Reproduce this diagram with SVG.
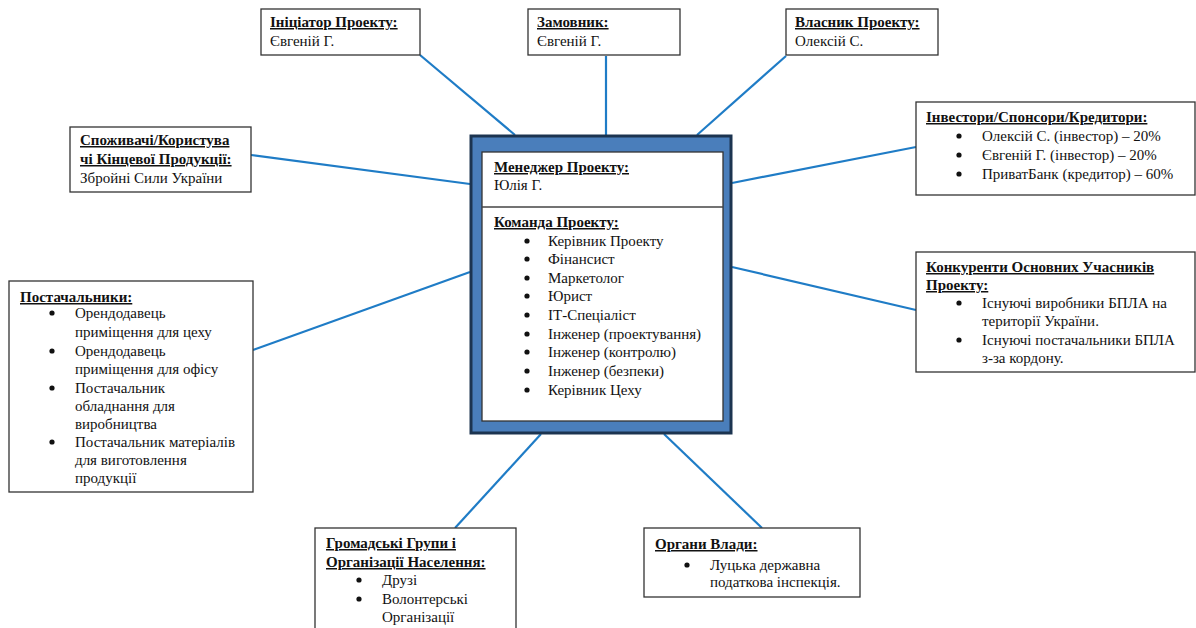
<svg xmlns="http://www.w3.org/2000/svg" width="1196" height="628" viewBox="0 0 1196 628">
<style>
.box{fill:#fff;stroke:#333;stroke-width:1.3}
text{font-family:"Liberation Serif","Times New Roman",serif;font-size:15px;fill:#111}
.t{font-weight:bold;text-decoration:underline}
.d{fill:#111}
.con line{stroke:#1f7cc6;stroke-width:2.2}
</style>
<rect width="1196" height="628" fill="#fff"/>
<g class="con" id="connectors">
<line x1="420" y1="55" x2="515" y2="135"/>
<line x1="606" y1="56" x2="606" y2="135"/>
<line x1="786" y1="56" x2="697" y2="135"/>
<line x1="251" y1="155" x2="470" y2="184"/>
<line x1="916" y1="147" x2="732" y2="183"/>
<line x1="253" y1="350" x2="470" y2="272"/>
<line x1="916" y1="310" x2="732" y2="267"/>
<line x1="455" y1="528" x2="541" y2="434"/>
<line x1="762" y1="528" x2="664" y2="434"/>
</g>
<g id="initiator">
<rect class="box" x="261" y="9" width="159" height="46"/>
<text class="t" x="270" y="27">Ініціатор Проекту:</text>
<text x="270" y="46">Євгеній Г.</text>
</g>
<g id="customer">
<rect class="box" x="528" y="9" width="152" height="46"/>
<text class="t" x="537" y="27">Замовник:</text>
<text x="537" y="46">Євгеній Г.</text>
</g>
<g id="owner">
<rect class="box" x="786" y="9" width="152" height="46"/>
<text class="t" x="795" y="27">Власник Проекту:</text>
<text x="795" y="46">Олексій С.</text>
</g>
<g id="consumers">
<rect class="box" x="70" y="127" width="181" height="65"/>
<text class="t" x="80" y="145">Споживачі/Користува</text>
<text class="t" x="80" y="164">чі Кінцевої Продукції:</text>
<text x="80" y="183">Збройні Сили України</text>
</g>
<g id="investors">
<rect class="box" x="916" y="102" width="279" height="93"/>
<text class="t" x="926" y="122">Інвестори/Спонсори/Кредитори:</text>
<circle class="d" cx="959" cy="136" r="2.6"/><text x="982" y="141">Олексій С. (інвестор) – 20%</text>
<circle class="d" cx="959" cy="155" r="2.6"/><text x="982" y="160">Євгеній Г. (інвестор) – 20%</text>
<circle class="d" cx="959" cy="174" r="2.6"/><text x="982" y="179">ПриватБанк (кредитор) – 60%</text>
</g>
<g id="suppliers">
<rect class="box" x="9" y="281" width="244" height="211"/>
<text class="t" x="20" y="302">Постачальники:</text>
<circle class="d" cx="52" cy="313" r="2.6"/><text x="75" y="318">Орендодавець</text>
<text x="75" y="337">приміщення для цеху</text>
<circle class="d" cx="52" cy="351" r="2.6"/><text x="75" y="356">Орендодавець</text>
<text x="75" y="374">приміщення для офісу</text>
<circle class="d" cx="52" cy="388" r="2.6"/><text x="75" y="393">Постачальник</text>
<text x="75" y="411">обладнання для</text>
<text x="75" y="429">виробництва</text>
<circle class="d" cx="52" cy="442" r="2.6"/><text x="75" y="447">Постачальник матеріалів</text>
<text x="75" y="465">для виготовлення</text>
<text x="75" y="483">продукції</text>
</g>
<g id="competitors">
<rect class="box" x="916" y="252" width="279" height="120"/>
<text class="t" x="926" y="272">Конкуренти Основних Учасників</text>
<text class="t" x="926" y="290">Проекту:</text>
<circle class="d" cx="959" cy="303" r="2.6"/><text x="982" y="308">Існуючі виробники БПЛА на</text>
<text x="982" y="326">території України.</text>
<circle class="d" cx="959" cy="340" r="2.6"/><text x="982" y="345">Існуючі постачальники БПЛА</text>
<text x="982" y="363">з-за кордону.</text>
</g>
<g id="public">
<rect class="box" x="315" y="528" width="201" height="110"/>
<text class="t" x="326" y="548">Громадські Групи і</text>
<text class="t" x="326" y="567">Організації Населення:</text>
<circle class="d" cx="359" cy="580" r="2.6"/><text x="382" y="585">Друзі</text>
<circle class="d" cx="359" cy="599" r="2.6"/><text x="382" y="604">Волонтерські</text>
<text x="382" y="622">Організації</text>
</g>
<g id="authorities">
<rect class="box" x="644" y="528" width="216" height="69"/>
<text class="t" x="655" y="549">Органи Влади:</text>
<circle class="d" cx="687" cy="565" r="2.6"/><text x="710" y="570">Луцька державна</text>
<text x="710" y="587">податкова інспекція.</text>
</g>
<g id="manager">
<rect x="471" y="136" width="260" height="297" fill="#4a7ebb" stroke="#1c3450" stroke-width="3"/>
<rect x="482" y="152" width="241" height="269" fill="#fff" stroke="#333" stroke-width="1.3"/>
<line x1="482" y1="207" x2="723" y2="207" stroke="#444" stroke-width="1.3"/>
<text class="t" x="494" y="172">Менеджер Проекту:</text>
<text x="494" y="190">Юлія Г.</text>
<text class="t" x="494" y="227">Команда Проекту:</text>
<circle class="d" cx="527" cy="241" r="2.6"/><text x="548" y="246">Керівник Проекту</text>
<circle class="d" cx="527" cy="259" r="2.6"/><text x="548" y="264">Фінансист</text>
<circle class="d" cx="527" cy="278" r="2.6"/><text x="548" y="283">Маркетолог</text>
<circle class="d" cx="527" cy="296" r="2.6"/><text x="548" y="301">Юрист</text>
<circle class="d" cx="527" cy="315" r="2.6"/><text x="548" y="320">ІТ-Спеціаліст</text>
<circle class="d" cx="527" cy="334" r="2.6"/><text x="548" y="339">Інженер (проектування)</text>
<circle class="d" cx="527" cy="352" r="2.6"/><text x="548" y="357">Інженер (контролю)</text>
<circle class="d" cx="527" cy="371" r="2.6"/><text x="548" y="376">Інженер (безпеки)</text>
<circle class="d" cx="527" cy="390" r="2.6"/><text x="548" y="395">Керівник Цеху</text>
</g>
</svg>
